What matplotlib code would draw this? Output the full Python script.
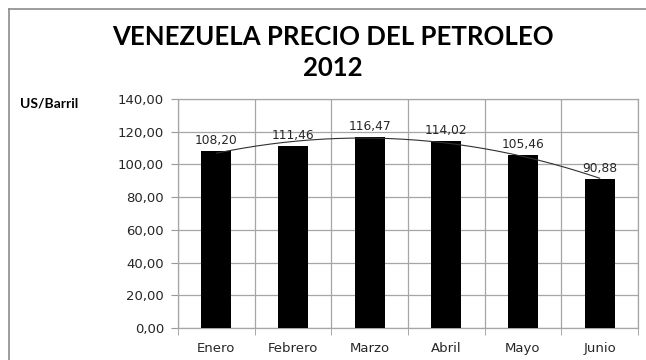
import numpy as np
import matplotlib
matplotlib.use("Agg")
import matplotlib.pyplot as plt
from matplotlib.lines import Line2D

# datos
meses = ["Enero", "Febrero", "Marzo", "Abril", "Mayo", "Junio"]
precios = [108.20, 111.46, 116.47, 114.02, 105.46, 90.88]
y_ticks = [0, 20, 40, 60, 80, 100, 120, 140]

plt.rcParams['font.family'] = ['DejaVu Sans']

fig = plt.figure(figsize=(6.46, 3.6), dpi=100)
ax = fig.add_axes([178 / 646, 1 - 328 / 360, 460 / 646, 229 / 360])

x = np.arange(len(meses))
ax.bar(x, precios, width=0.39, color="black", zorder=3)

# etiquetas de datos
for xi, v in zip(x, precios):
    ax.annotate(f"{v:.2f}".replace(".", ","), (xi, v), xytext=(0, 3),
                textcoords="offset points", ha="center", va="bottom",
                fontsize=8.8, color="#262626", zorder=4)

# linea de tendencia (polinomica)
coef = np.polyfit(x, precios, 2)
xs = np.linspace(0, len(meses) - 1, 200)
ax.plot(xs, np.polyval(coef, xs), color="#303030", lw=0.8, zorder=3.5)

ax.set_xlim(-0.5, len(meses) - 0.5)
ax.set_ylim(0, 140)
ax.set_yticks(y_ticks)
ax.set_yticklabels([f"{t:.2f}".replace(".", ",") for t in y_ticks])
ax.set_xticks(x)
ax.set_xticklabels(meses)
ax.set_xticks(np.arange(-0.5, len(meses)), minor=True)
ax.tick_params(axis="x", which="major", length=0, pad=10)
ax.tick_params(axis="x", which="minor", length=5, color="#999999")
ax.tick_params(axis="y", length=5, color="#999999", pad=5)
ax.tick_params(labelsize=9.5, labelcolor="#262626")

ax.grid(axis="y", color="#a6a6a6", lw=0.9, zorder=0)
ax.grid(axis="x", which="minor", color="#a6a6a6", lw=0.9, zorder=0)
for s in ax.spines.values():
    s.set_color("#a6a6a6")
    s.set_linewidth(0.9)

fig.text(333 / 646, 1 - 37 / 360, "VENEZUELA PRECIO DEL PETROLEO", ha="center", va="center",
         fontsize=18.5, fontweight="bold", family=["Lato", "DejaVu Sans"])
fig.text(333 / 646, 1 - 68 / 360, "2012", ha="center", va="center",
         fontsize=18.5, fontweight="bold", family=["Lato", "DejaVu Sans"])
fig.text(20 / 646, 1 - 103 / 360, "US/Barril", ha="left", va="center",
         fontsize=10, fontweight="bold", family=["Lato", "DejaVu Sans"])

# borde del grafico (solo izquierda y arriba visibles)
bx, by = 9 / 646, 1 - 9 / 360
fig.add_artist(Line2D([bx, bx], [0, by], transform=fig.transFigure, color="#8c8c8c", lw=1.2))
fig.add_artist(Line2D([bx, 1], [by, by], transform=fig.transFigure, color="#8c8c8c", lw=1.2))

fig.savefig("out.png", dpi=100)
